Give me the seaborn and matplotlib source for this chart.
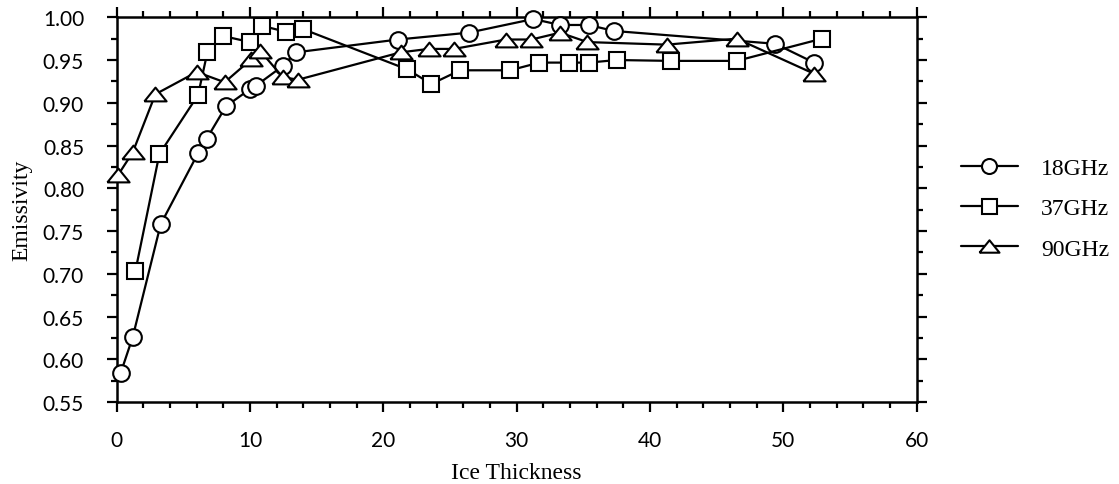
import numpy as np
import pandas as pd
import matplotlib
matplotlib.use("Agg")
import matplotlib.pyplot as plt
from matplotlib.ticker import MultipleLocator, FormatStrFormatter
import seaborn as sns

# Emissivity vs. ice thickness for three radiometer frequencies
thick_18 = [0.3, 1.2, 3.3, 6.1, 6.75, 8.2, 10.0, 10.45, 12.45, 13.45,
            21.1, 26.4, 31.25, 33.25, 35.4, 37.3, 49.4, 52.3]
emis_18 = [0.584, 0.626, 0.758, 0.841, 0.858, 0.896, 0.916, 0.920, 0.943, 0.959,
           0.974, 0.982, 0.998, 0.991, 0.991, 0.984, 0.969, 0.947]

thick_37 = [1.4, 3.2, 6.1, 6.8, 8.0, 10.0, 10.9, 12.7, 14.0,
            21.8, 23.6, 25.75, 29.5, 31.7, 33.9, 35.4, 37.5, 41.6, 46.5, 52.9]
emis_37 = [0.703, 0.840, 0.909, 0.959, 0.978, 0.971, 0.990, 0.983, 0.986,
           0.939, 0.922, 0.938, 0.938, 0.947, 0.947, 0.947, 0.950, 0.949, 0.949, 0.975]

thick_90 = [0.12, 1.2, 2.9, 6.0, 8.1, 10.1, 10.75, 12.45, 13.6,
            21.3, 23.4, 25.3, 29.2, 31.1, 33.25, 35.3, 41.25, 46.5, 52.3]
emis_90 = [0.816, 0.842, 0.910, 0.936, 0.924, 0.951, 0.961, 0.930, 0.927,
           0.959, 0.963, 0.963, 0.974, 0.974, 0.982, 0.971, 0.968, 0.975, 0.934]

series_labels = ["18GHz", "37GHz", "90GHz"]
x_ticks = [0, 10, 20, 30, 40, 50, 60]
y_ticks = [0.55, 0.60, 0.65, 0.70, 0.75, 0.80, 0.85, 0.90, 0.95, 1.00]

sns.set_theme(style="ticks")
plt.rcParams["font.family"] = ["Liberation Serif", "DejaVu Serif"]

fig = plt.figure(figsize=(11.19, 4.85), dpi=100)
ax = fig.add_axes([0.1043, 0.169, 0.7149, 0.7933])

flat_tri = [(-1.0, -0.62), (1.0, -0.62), (0.0, 0.62), (-1.0, -0.62)]
styles = [
    dict(marker="o", markersize=12),
    dict(marker="s", markersize=12),
    dict(marker=flat_tri, markersize=16),
]

data = [(thick_18, emis_18), (thick_37, emis_37), (thick_90, emis_90)]
for (xs, ys), lab, st in zip(data, series_labels, styles):
    df = pd.DataFrame({"Ice Thickness": xs, "Emissivity": ys})
    sns.lineplot(data=df, x="Ice Thickness", y="Emissivity", ax=ax,
                 estimator=None, sort=False, color="black", linewidth=1.6,
                 markerfacecolor="white", markeredgecolor="black",
                 markeredgewidth=1.5, label=lab, clip_on=False, zorder=3,
                 legend=False, **st)

ax.set_xlim(0, 60)
ax.set_ylim(0.55, 1.00)
ax.set_xticks(x_ticks)
ax.set_yticks(y_ticks)
ax.xaxis.set_minor_locator(MultipleLocator(2))
ax.yaxis.set_minor_locator(MultipleLocator(0.025))
ax.yaxis.set_major_formatter(FormatStrFormatter("%.2f"))

for side in ["left", "right", "top", "bottom"]:
    ax.spines[side].set_visible(True)
    ax.spines[side].set_linewidth(1.8)
    ax.spines[side].set_color("black")

ax.tick_params(which="both", direction="out", top=True, right=True,
               labeltop=False, labelright=False, color="black", width=1.6)
ax.tick_params(which="major", length=7, labelsize=15)
ax.tick_params(which="minor", length=4)
ax.tick_params(axis="y", which="major", pad=16.5)
ax.tick_params(axis="x", which="major", pad=13)
for t in ax.get_xticklabels() + ax.get_yticklabels():
    t.set_fontfamily(["Lato", "DejaVu Sans"])
    t.set_color("black")

ax.set_xlabel("Ice Thickness", fontsize=17, color="black")
ax.set_ylabel("Emissivity", fontsize=17, color="black")
ax.xaxis.set_label_coords(0.5, -0.155)
ax.yaxis.set_label_coords(-0.105, 0.5)

leg = ax.legend(loc="center left", bbox_to_anchor=(1.043, 0.503), frameon=False,
                fontsize=17, handlelength=2.45, labelspacing=0.8,
                handletextpad=0.95, borderaxespad=0, markerscale=0.9)
for txt in leg.get_texts():
    txt.set_color("black")

fig.savefig("out.png", dpi=100, facecolor="white")
